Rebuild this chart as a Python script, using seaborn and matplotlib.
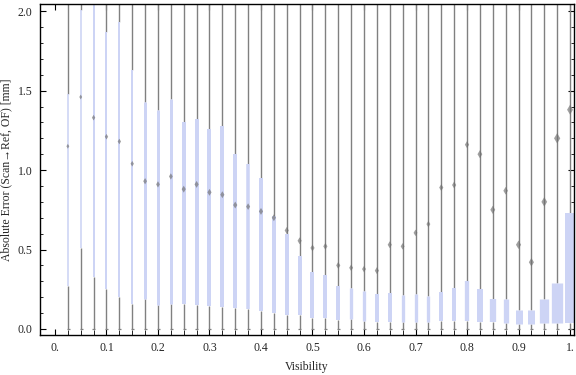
import numpy as np
import matplotlib
matplotlib.use("Agg")
import matplotlib.pyplot as plt
import seaborn as sns
import pandas as pd

# visibility bins (box centres)
visibility = [0.025, 0.05, 0.075, 0.1, 0.125, 0.15, 0.175, 0.2, 0.225, 0.25,
              0.275, 0.3, 0.325, 0.35, 0.375, 0.4, 0.425, 0.45, 0.475, 0.5,
              0.525, 0.55, 0.575, 0.6, 0.625, 0.65, 0.675, 0.7, 0.725, 0.75,
              0.775, 0.8, 0.825, 0.85, 0.875, 0.9, 0.925, 0.95, 0.975, 1.0]

# lower / upper quartile of the absolute error [mm]
q1 = [0.27, 0.51, 0.33, 0.25, 0.20, 0.16, 0.19, 0.15, 0.16, 0.155,
      0.153, 0.147, 0.14, 0.134, 0.124, 0.113, 0.10, 0.09, 0.086, 0.071,
      0.071, 0.058, 0.065, 0.05, 0.046, 0.046, 0.046, 0.046, 0.046, 0.048,
      0.048, 0.052, 0.046, 0.046, 0.04, 0.03, 0.03, 0.035, 0.035, 0.04]
q3 = [1.48, 2.01, 2.3, 1.87, 1.93, 1.63, 1.43, 1.38, 1.45, 1.30,
      1.32, 1.26, 1.28, 1.10, 1.04, 0.95, 0.71, 0.60, 0.46, 0.36,
      0.34, 0.27, 0.26, 0.24, 0.218, 0.226, 0.214, 0.218, 0.21, 0.233,
      0.258, 0.30, 0.25, 0.19, 0.19, 0.12, 0.12, 0.19, 0.287, 0.73]
means = [1.15, 1.46, 1.33, 1.21, 1.18, 1.04, 0.93, 0.91, 0.96, 0.88,
         0.91, 0.86, 0.845, 0.78, 0.77, 0.74, 0.70, 0.62, 0.555, 0.51,
         0.52, 0.40, 0.385, 0.377, 0.367, 0.53, 0.52, 0.605, 0.66, 0.89,
         0.906, 1.16, 1.10, 0.75, 0.87, 0.53, 0.42, 0.80, 1.20, 1.38]
whisker_lo = [0.0] * 40
whisker_hi = [2.6] * 40

# box widths as drawn (pixels)
box_px = [1, 1, 2, 2, 2, 2, 3, 3, 3, 4,
          4, 4, 4, 4, 3.5, 4, 4, 4, 4, 4,
          4, 4, 3.3, 3.3, 4, 4, 3.3, 3.3, 3.3, 4,
          4, 4.3, 6, 6.3, 5.3, 7, 7, 9.3, 11.3, 10]

if __name__ == "__main__":
    sns.set_style("ticks")
    plt.rcParams['font.family'] = ['Liberation Serif', 'DejaVu Serif']
    plt.rcParams['font.size'] = 8

    df = pd.DataFrame({'visibility': visibility, 'q1': q1, 'q3': q3,
                       'mean': means, 'lo': whisker_lo, 'hi': whisker_hi,
                       'w': box_px})
    px_per_unit = 515.0

    fig = plt.figure(figsize=(5.76, 3.75), dpi=100)
    ax = fig.add_axes([0.0686, 0.1067, 0.928, 0.882])

    # whiskers: below and above the box
    ax.vlines(df['visibility'], df['lo'], df['q1'], color='#808080', lw=1.0, zorder=1)
    ax.vlines(df['visibility'], df['q3'], df['hi'], color='#808080', lw=1.0, zorder=1)
    ax.hlines(df['lo'], df['visibility'] - 1.2 / px_per_unit, df['visibility'] + 1.8 / px_per_unit,
              color='#808080', lw=0.9, zorder=1)
    # boxes (line width in points = pixel width * 0.72)
    for x, lo, hi, w in zip(df['visibility'], df['q1'], df['q3'], df['w']):
        ax.plot([x, x], [lo, hi], color='#cdd4f5', lw=max(w, 1.6) * 0.72,
                solid_capstyle='butt', zorder=2)
    # mean markers
    sns.scatterplot(data=df, x='visibility', y='mean', marker='d', size='w', sizes=(6, 28),
                    color='#6e6e6e', alpha=0.65, edgecolor='none', zorder=3, ax=ax, legend=False)

    ax.set_xlim(-0.030, 1.0078)
    ax.set_ylim(-0.038, 2.044)
    ax.set_xticks(np.round(np.arange(0, 1.01, 0.1), 2))
    ax.set_xticklabels(['0.', '0.1', '0.2', '0.3', '0.4', '0.5', '0.6', '0.7', '0.8', '0.9', '1.'])
    ax.set_xticks(np.arange(0, 1.001, 0.025), minor=True)
    ax.set_yticks([0, 0.5, 1.0, 1.5, 2.0])
    ax.set_yticklabels(['0.0', '0.5', '1.0', '1.5', '2.0'])
    ax.set_yticks(np.arange(0, 2.05, 0.1), minor=True)
    ax.tick_params(which='both', direction='in', top=True, right=True, color='black')
    ax.tick_params(which='major', length=4, width=0.8, labelsize=8.5, pad=5)
    ax.tick_params(which='minor', length=2.5, width=0.6)
    ax.tick_params(axis='x', which='minor', length=3.5)
    for s in ax.spines.values():
        s.set_color('black')
        s.set_linewidth(1.0)

    ax.set_xlabel('Visibility', fontsize=8.5, labelpad=5)
    ax.set_ylabel('Absolute Error (Scan\u2192Ref, OF) [mm]', fontsize=8.5, labelpad=4)

    plt.savefig('out.png', dpi=100)
